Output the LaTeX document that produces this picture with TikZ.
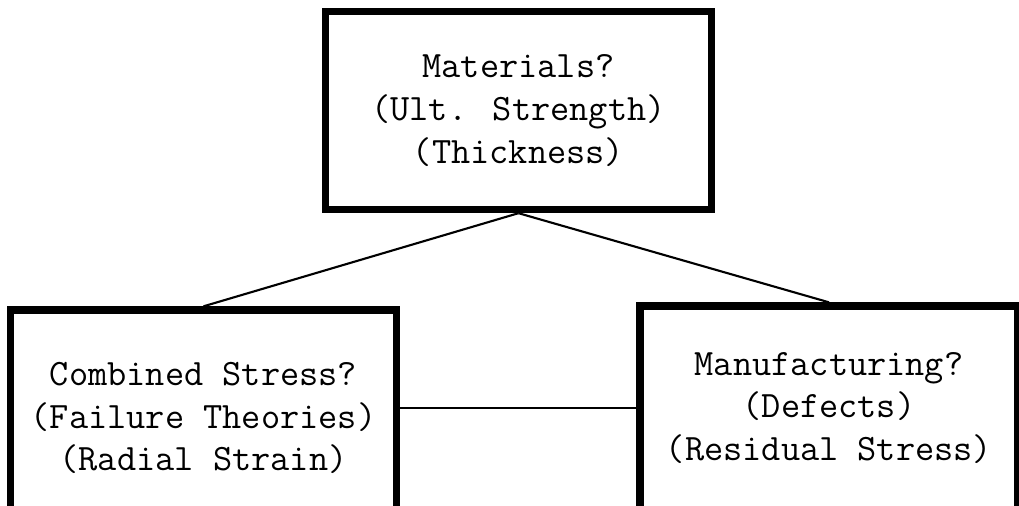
\documentclass[tikz,border=0pt]{standalone}
\usepackage{tikz}
\usetikzlibrary{positioning}

\begin{document}
\begin{tikzpicture}[
  font=\ttfamily\fontsize{26.5}{30.5}\selectfont,
  qbox/.style={draw, line width=5.2pt, align=center, inner sep=0pt},
  link/.style={line width=1.5pt}
]
\begin{scope}[x=0.025cm,y=-0.025cm]
  \useasboundingbox (0,0) rectangle (1019,506);

  \node[qbox,minimum width=9.65cm,minimum height=4.95cm] (mat) at (518.5,110.5)
    {Materials?\\(Ult. Strength)\\(Thickness)};
  \node[qbox,minimum width=9.65cm,minimum height=5.4cm] (comb) at (203.5,418)
    {Combined Stress?\\(Failure Theories)\\(Radial Strain)};
  \node[qbox,minimum width=9.45cm,minimum height=5.1cm] (manu) at (829,408)
    {Manufacturing?\\(Defects)\\(Residual Stress)};

  \draw[link] (mat.south) -- (comb.north);
  \draw[link] (mat.south) -- (manu.north);
  \draw[link] (manu.west) -- (manu.west -| comb.east);
\end{scope}
\end{tikzpicture}
\end{document}
